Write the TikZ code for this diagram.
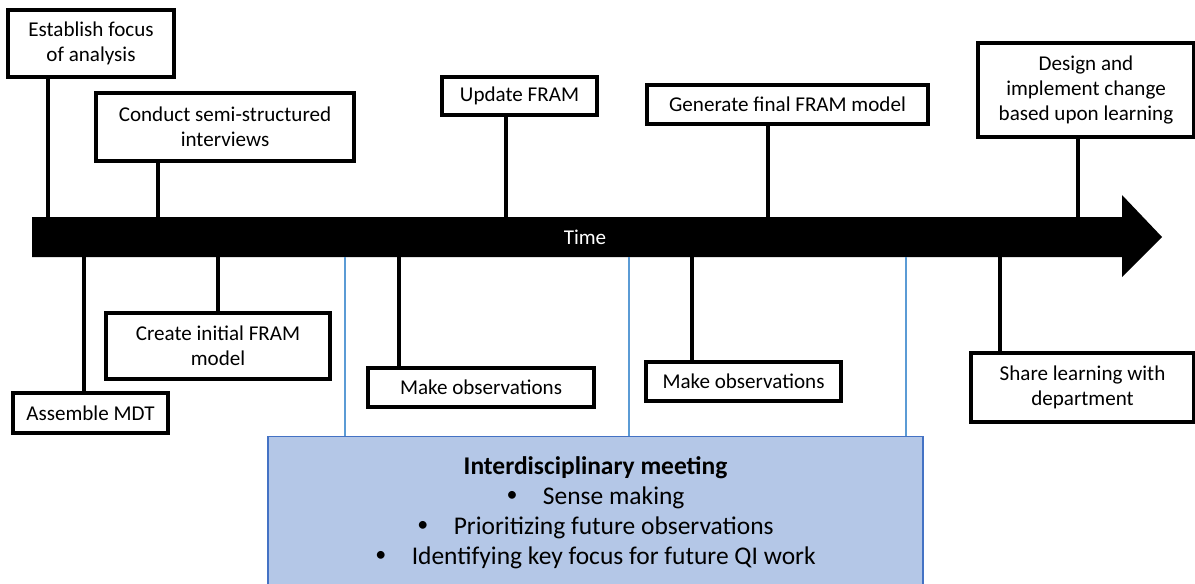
\documentclass[tikz,border=0pt]{standalone}
\usepackage{fontspec}
\setmainfont{Carlito}

\definecolor{meetfill}{HTML}{B4C7E7}
\definecolor{meetdraw}{HTML}{4472C4}
\definecolor{meetline}{HTML}{5B9BD5}

\newcommand{\meetbullet}{\raisebox{0.1em}{\fontsize{12.5}{15}\selectfont\textbullet}\quad}

\begin{document}
\begin{tikzpicture}[x=0.02cm, y=-0.02cm,
    box/.style={draw, line width=1.8pt, align=center, inner sep=0pt, font=\fontsize{12}{14.4}\selectfont},
    tick/.style={line width=1.8pt},
    link/.style={meetline, line width=1.6pt}]
    \useasboundingbox (0,0) rectangle (1195,583);

    % Time arrow
    \fill[black] (32,217) -- (1122,217) -- (1122,195) -- (1162,237) -- (1122,277) -- (1122,257) -- (32,257) -- cycle;
    \node[text=white, font=\fontsize{12}{14.4}\selectfont] (time) at (585,237) {Time};
    \coordinate (shafttop) at (0,217);
    \coordinate (shaftbot) at (0,257);

    % Steps above the line
    \node[box, minimum width=3.32cm, minimum height=1.34cm] (focus) at (91,43.5) {Establish focus\\of analysis};
    \node[box, minimum width=5.16cm, minimum height=1.36cm] (interviews) at (225,127) {Conduct semi-structured\\interviews};
    \node[box, minimum width=3.10cm, minimum height=0.76cm] (update) at (519.5,96) {Update FRAM};
    \node[box, minimum width=5.62cm, minimum height=0.78cm] (final) at (787.5,104.5) {Generate final FRAM model};
    \node[box, minimum width=4.32cm, minimum height=1.88cm] (change) at (1086,90) {Design and\\implement change\\based upon learning};

    % Steps below the line
    \node[box, minimum width=3.10cm, minimum height=0.80cm] (mdt) at (90.5,413) {Assemble MDT};
    \node[box, minimum width=4.48cm, minimum height=1.32cm] (initial) at (218,346) {Create initial FRAM\\model};
    \node[box, minimum width=4.52cm, minimum height=0.78cm] (obsA) at (481,387.5) {Make observations};
    \node[box, minimum width=3.90cm, minimum height=0.78cm] (obsB) at (743.5,381.5) {Make observations};
    \node[box, minimum width=4.46cm, minimum height=1.38cm] (share) at (1082.5,387.5) {Share learning with\\department};

    % Meeting
    \node[draw=meetdraw, fill=meetfill, line width=0.8pt, minimum width=13.10cm, minimum height=3.04cm,
          anchor=north, align=center, inner sep=0pt, font=\fontsize{14.5}{17}\selectfont] (meeting) at (595.5,436)
        {\textbf{Interdisciplinary meeting}\\
         \meetbullet Sense making\\
         \meetbullet Prioritizing future observations\\
         \meetbullet Identifying key focus for future QI work};

    % Ticks
    \foreach \x/\n in {48/focus, 158/interviews, 506/update, 768/final, 1078/change} {
        \coordinate (t-\n) at (\x,0);
        \draw[tick] (t-\n |- \n.south) -- (t-\n |- shafttop);
    }
    \foreach \x/\n in {84/mdt, 218/initial, 399/obsA, 692/obsB, 1000/share} {
        \coordinate (t-\n) at (\x,0);
        \draw[tick] (t-\n |- shaftbot) -- (t-\n |- \n.north);
    }
    \foreach \x in {345, 629, 906} {
        \coordinate (m-\x) at (\x,257);
        \draw[link] (m-\x) -- (m-\x |- meeting.north);
    }
\end{tikzpicture}
\end{document}
